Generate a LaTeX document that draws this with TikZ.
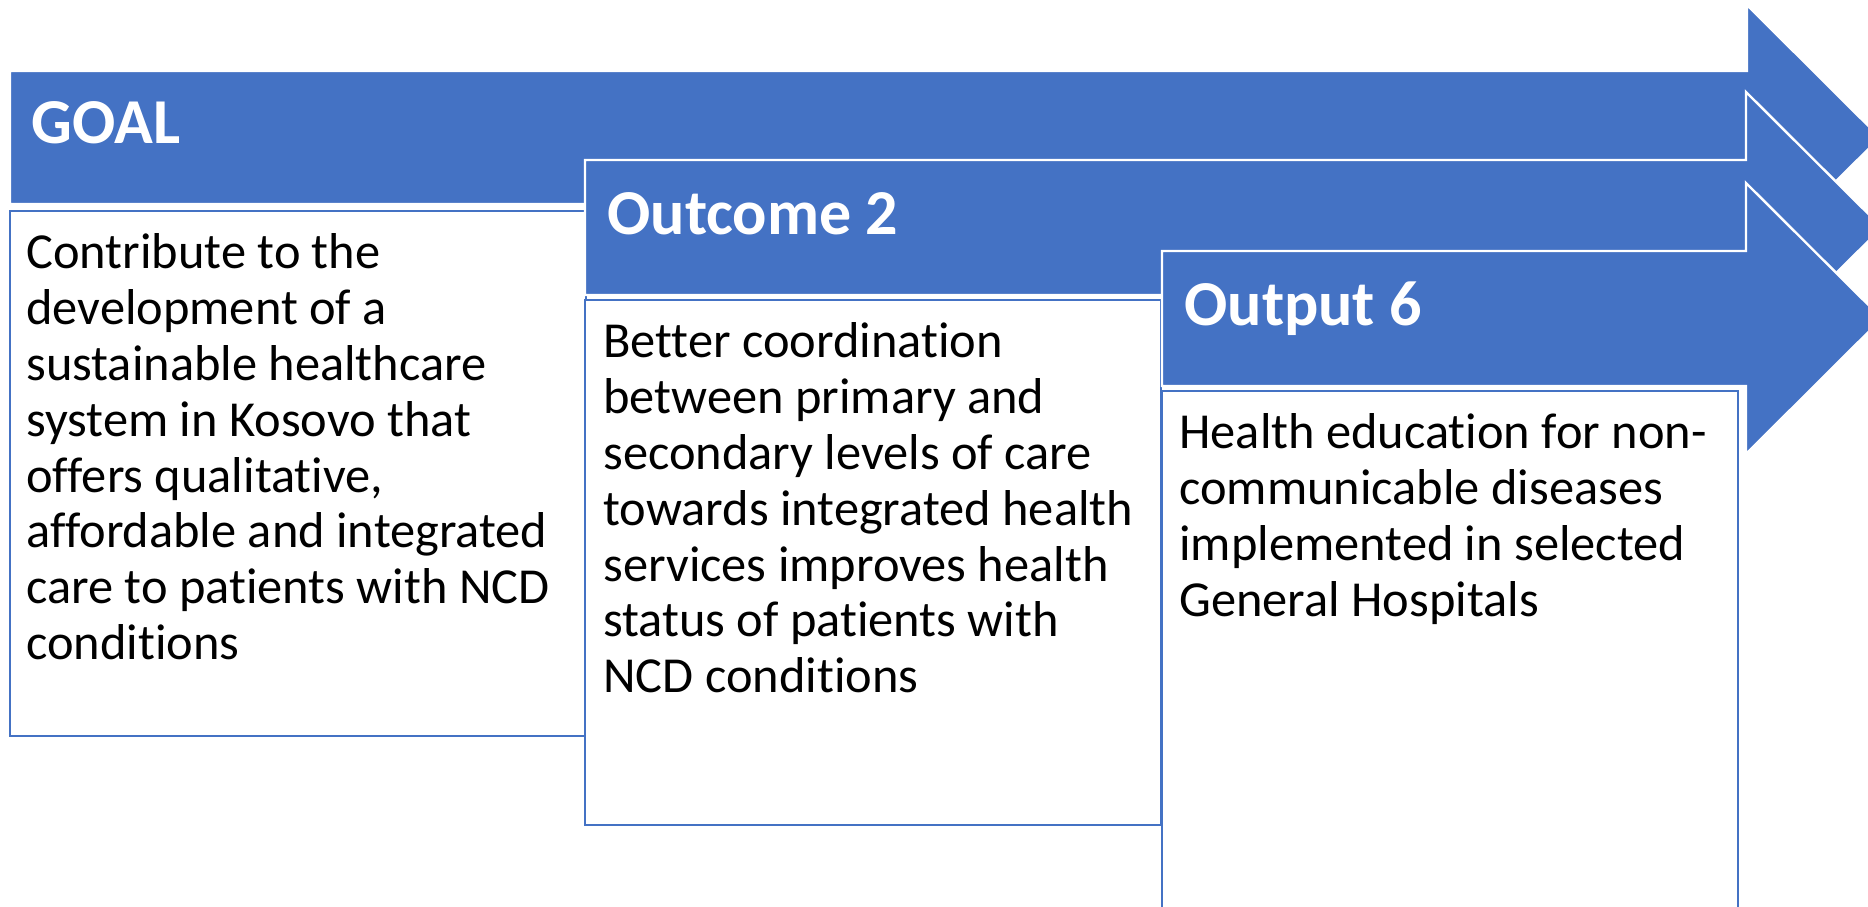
\documentclass[tikz,border=0pt]{standalone}
\usepackage{fontspec}
\setmainfont{Carlito}[Ligatures=NoCommon]
\usepackage{xcolor}
\definecolor{lfBlue}{HTML}{4472C4}
\usetikzlibrary{positioning}
\tikzset{
    banner/.style={
        fill=lfBlue,
        draw=white,
        line width=1.2pt,
        line join=miter
    },
    panel/.style={
        draw=lfBlue,
        fill=white,
        rectangle,
        line width=1pt,
        minimum width=288pt,
        minimum height=262.5pt,
        inner sep=0pt,
        outer sep=0pt,
        anchor=north west
    },
    headtext/.style={
        text=white,
        font=\fontsize{32}{38}\selectfont\bfseries,
        inner sep=0pt,
        anchor=base west
    },
    bodytext/.style={
        font=\fontsize{25.2}{27.9}\selectfont,
        align=left,
        inner sep=0pt
    }
}

\begin{document}
\begin{tikzpicture}[x=0.5pt, y=-0.5pt]
    \useasboundingbox (0,0) rectangle (1868,906);

    % Goal arrow and box
    \path[banner] (10,71) -- (1747,71) -- (1747,5) -- (1880,137.5) -- (1747,270) -- (1747,204) -- (10,204) -- cycle;
    \node[headtext] (goal) at (31,143) {GOAL};
    \node[panel] (box1) at (10,211) {};
    \node[bodytext, below right=11.2pt and 8pt of box1.north west] (goaltxt) {Contribute to the\\development of a\\sustainable healthcare\\system in Kosovo that\\offers qualitative,\\affordable and integrated\\care to patients with NCD\\conditions};

    % Outcome arrow and box
    \path[banner] (585,160) -- (1746,160) -- (1746,92) -- (1882,227.5) -- (1746,363) -- (1746,295) -- (585,295) -- cycle;
    \node[headtext] (outcome) at (607,234) {Outcome 2};
    \node[panel] (box2) at (585,300) {};
    \node[bodytext, below right=11.2pt and 9pt of box2.north west] (outcometxt) {Better coordination\\between primary and\\secondary levels of care\\towards integrated health\\services improves health\\status of patients with\\NCD conditions};

    % Output arrow and box
    \path[banner] (1162,251) -- (1746,251) -- (1746,183) -- (1882,318.5) -- (1746,454) -- (1746,386) -- (1162,386) -- cycle;
    \node[headtext] (output) at (1184,325) {Output 6};
    \node[panel] (box3) at (1162,391) {};
    \node[bodytext, below right=11.2pt and 8.5pt of box3.north west] (outputtxt) {Health education for non-\\communicable diseases\\implemented in selected\\General Hospitals};
\end{tikzpicture}
\end{document}
